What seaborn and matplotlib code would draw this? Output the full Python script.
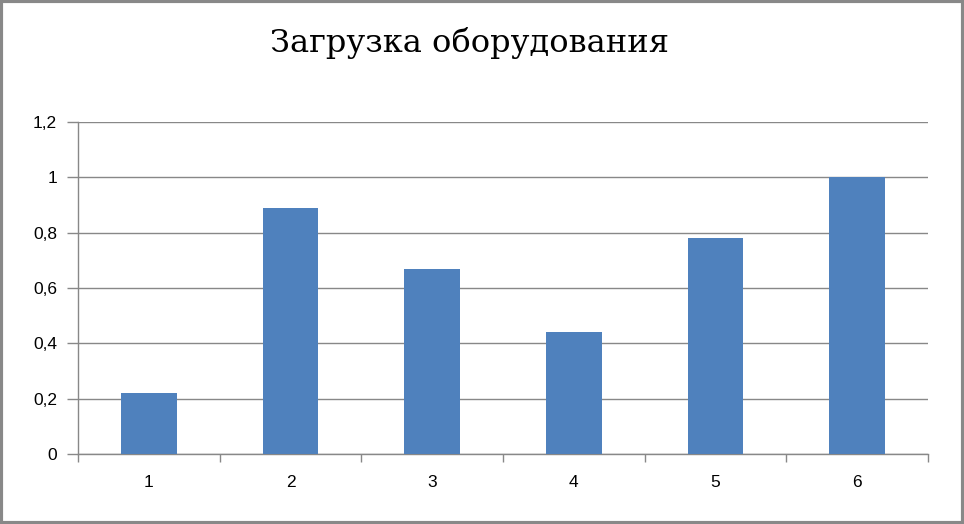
import matplotlib
matplotlib.use("Agg")
import matplotlib.pyplot as plt
import seaborn as sns
import pandas as pd
from matplotlib.patches import Rectangle

categories = ["1", "2", "3", "4", "5", "6"]
values = [0.22, 0.89, 0.67, 0.44, 0.78, 1.0]
yticks = [0, 0.2, 0.4, 0.6, 0.8, 1.0, 1.2]
ytick_labels = ["0", "0,2", "0,4", "0,6", "0,8", "1", "1,2"]
title = "Загрузка оборудования"

sns.set_style("white")
plt.rcParams["font.family"] = ["Liberation Sans", "DejaVu Sans"]

df = pd.DataFrame({"cat": categories, "val": values})

fig = plt.figure(figsize=(9.64, 5.24), dpi=100)
ax = fig.add_axes([78 / 964, 1 - 454 / 524, (928 - 78) / 964, (454 - 122) / 524])

sns.barplot(data=df, x="cat", y="val", color="#4F81BD", saturation=1, width=0.395,
            linewidth=0, ax=ax, zorder=3)

grid_c = "#888888"
ax.set_ylim(0, 1.2)
ax.set_xlim(-0.5, 5.5)
ax.set_yticks(yticks)
ax.set_yticklabels(ytick_labels)
ax.yaxis.grid(True, color=grid_c, linewidth=1, zorder=0)
ax.set_axisbelow(True)
ax.set_xlabel("")
ax.set_ylabel("")

for s in ["top", "right"]:
    ax.spines[s].set_visible(False)
for s in ["left", "bottom"]:
    ax.spines[s].set_color(grid_c)
    ax.spines[s].set_linewidth(1)

ax.tick_params(axis="y", which="major", length=8, width=1, color=grid_c, labelsize=12.5, pad=7, labelcolor="#000000", left=True)
ax.tick_params(axis="x", which="major", length=0, labelsize=12.5, pad=15, labelcolor="#000000", bottom=False)
ax.set_xticks(range(len(categories)))
ax.set_xticklabels(categories)
ax.set_xticks([i - 0.5 for i in range(len(categories) + 1)], minor=True)
ax.tick_params(axis="x", which="minor", length=6, width=1, color=grid_c, bottom=True)

fig.text(470 / 964, 1 - 43 / 524, title, ha="center", va="center", fontsize=23,
         family=["DejaVu Serif", "Liberation Serif"], color="#000000")

fig.patches.append(Rectangle((0.0015, 0.0025), 0.997, 0.995, transform=fig.transFigure, fill=False, edgecolor="#888888", linewidth=3))

fig.savefig("out.png", dpi=100, facecolor="white")
